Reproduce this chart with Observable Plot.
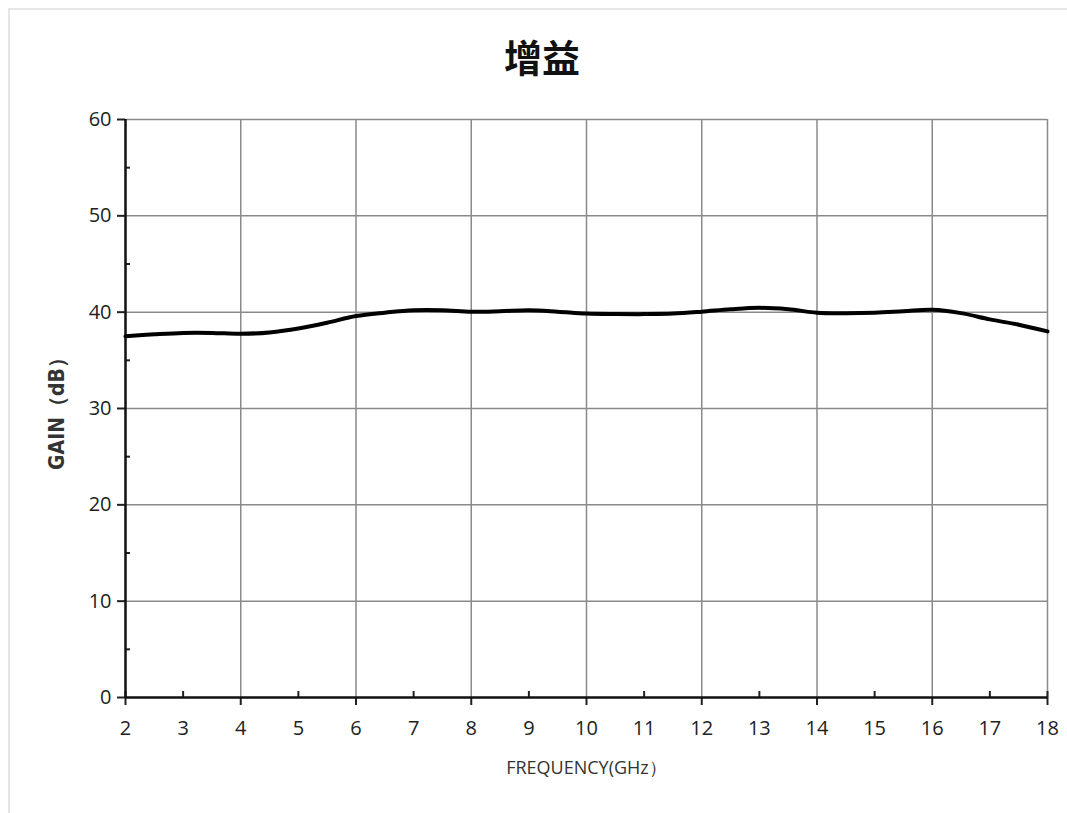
<!DOCTYPE html>
<html>
<head>
<meta charset="utf-8">
<script src="https://cdn.jsdelivr.net/npm/d3@7"></script>
<script src="https://cdn.jsdelivr.net/npm/@observablehq/plot@0.6"></script>
<style>
  html, body { margin: 0; padding: 0; background: #fff; }
  #page { position: relative; width: 1067px; height: 813px; overflow: hidden; }
  #frame { position: absolute; left: 8px; top: 8px; right: -2px; bottom: -2px;
           border-top: 2px solid #e6e6e6; border-left: 2px solid #e6e6e6; }
  #title { position: absolute; left: 0; top: 0; width: 1067px; height: 100px; }
  #title span { position: absolute; left: 542px; top: 55px; transform: translate(-50%, -50%);
                font-family: "Noto Sans CJK SC", sans-serif; font-weight: 700; font-size: 38px; color: #111; }
  #chart { position: absolute; left: 0; top: 100px; }
</style>
</head>
<body>
<div id="page">
  <div id="frame"></div>
  <div id="title"><span>增益</span></div>
  <div id="chart"></div>
</div>
<script>
const freq = [2, 2.5, 3, 3.5, 4, 4.5, 5, 5.5, 6, 6.5, 7, 7.5, 8, 8.5, 9, 9.5, 10, 10.5, 11, 11.5, 12, 12.5, 13, 13.5, 14, 14.5, 15, 15.5, 16, 16.5, 17, 17.5, 18];
const gain = [37.5, 37.7, 37.85, 37.85, 37.75, 37.9, 38.3, 38.9, 39.6, 39.95, 40.2, 40.2, 40.05, 40.1, 40.2, 40.05, 39.85, 39.8, 39.8, 39.85, 40.05, 40.3, 40.45, 40.3, 39.95, 39.9, 39.95, 40.1, 40.25, 39.9, 39.25, 38.7, 38.0];
const xTicks = [2, 3, 4, 5, 6, 7, 8, 9, 10, 11, 12, 13, 14, 15, 16, 17, 18];
const xMajor = [2, 4, 6, 8, 10, 12, 14, 16, 18];
const xMinor = [3, 5, 7, 9, 11, 13, 15, 17];
const xGrid = [4, 6, 8, 10, 12, 14, 16, 18];
const yTicks = [0, 10, 20, 30, 40, 50, 60];
const yMinor = [5, 15, 25, 35, 45, 55];
const yGrid = [10, 20, 30, 40, 50, 60];
const xLabel = "FREQUENCY(GHz）";
const yLabel = "GAIN（dB）";

const data = freq.map((f, i) => ({f, g: gain[i]}));

const chart = Plot.plot({
  width: 1067,
  height: 713,
  marginLeft: 125,
  marginRight: 20,
  marginTop: 19,
  marginBottom: 116,
  style: {fontFamily: "'Open Sans', sans-serif", fontSize: "20px", color: "#222", background: "transparent"},
  x: {domain: [2, 18]},
  y: {domain: [0, 60]},
  marks: [
    Plot.ruleX(xGrid, {stroke: "#8a8a8a", strokeWidth: 1.5}),
    Plot.ruleY(yGrid, {stroke: "#8a8a8a", strokeWidth: 1.5}),
    Plot.axisX({ticks: xTicks, tickSize: 0, tickPadding: 23, tickFormat: d => String(d),
                label: null, fontSize: 20, fill: "#222"}),
    Plot.axisX({ticks: xMajor, tickSize: 8, text: null, strokeWidth: 2, label: null}),
    Plot.axisX({ticks: [2, 18], tickSize: 6, dy: -6, text: null, strokeWidth: 2, label: null}),
    Plot.axisX({ticks: xMinor, tickSize: 6, dy: -6, text: null, strokeWidth: 2, label: null}),
    Plot.axisY({ticks: yTicks, tickSize: 8, tickPadding: 6, strokeWidth: 2, label: null, fontSize: 20, fill: "#222"}),
    Plot.axisY({ticks: yMinor, tickSize: 5, dx: 5, text: null, strokeWidth: 2, label: null}),
    Plot.text([xLabel], {frameAnchor: "bottom", dy: 76, text: d => d, fontSize: 18,
                         fontFamily: "'Open Sans', sans-serif", fill: "#333"}),
    Plot.text([yLabel], {frameAnchor: "left", dx: -68, rotate: -90, textAnchor: "middle", text: d => d, fontSize: 21,
                         fontWeight: "bold", fontFamily: "'DejaVu Sans Condensed', sans-serif", fill: "#333"}),
    Plot.ruleX([2], {stroke: "#111", strokeWidth: 2.5}),
    Plot.ruleY([0], {stroke: "#111", strokeWidth: 2.5}),
    Plot.line(data, {x: "f", y: "g", stroke: "#000", strokeWidth: 4, curve: "catmull-rom"})
  ]
});
document.getElementById("chart").appendChild(chart);
</script>
</body>
</html>
